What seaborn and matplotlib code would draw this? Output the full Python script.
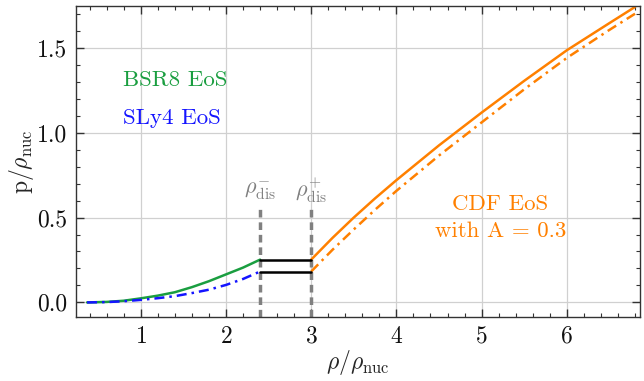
import matplotlib
matplotlib.use("Agg")
import matplotlib.pyplot as plt
import matplotlib.ticker as mticker
import pandas as pd
import seaborn as sns

# densities (rho/rho_nuc) and pressures (p/rho_nuc)
rho_hadr = [0.37, 0.6, 0.8, 1.0, 1.2, 1.4, 1.6, 1.8, 2.0, 2.2, 2.4]
p_bsr8 = [0.0, 0.003, 0.01, 0.024, 0.04, 0.06, 0.09, 0.125, 0.165, 0.205, 0.252]
p_sly4 = [0.0, 0.002, 0.007, 0.015, 0.025, 0.037, 0.055, 0.075, 0.103, 0.138, 0.182]

rho_cdf = [3.0, 3.25, 3.5, 3.75, 4.0, 4.5, 5.0, 5.5, 6.0, 6.5, 6.8]
p_cdf_bsr8 = [0.252, 0.38, 0.50, 0.613, 0.72, 0.925, 1.118, 1.305, 1.485, 1.645, 1.74]
p_cdf_sly4 = [0.182, 0.31, 0.43, 0.546, 0.657, 0.865, 1.06, 1.255, 1.44, 1.605, 1.70]

rho_dis_minus = 2.4
rho_dis_plus = 3.0

green = "#1a9e40"
blue = "#1414ff"
orange = "#ff8000"
gray = "#808080"

sns.set_theme(style="ticks")
plt.rcParams.update({
    "font.family": ["serif"],
    "font.serif": ["cmr10", "DejaVu Serif"],
    "mathtext.fontset": "cm",
    "axes.formatter.use_mathtext": True,
    "axes.unicode_minus": False,
})

fig = plt.figure(figsize=(6.44, 3.81), dpi=100)
ax = fig.add_axes([0.118, 0.167, 0.876, 0.817])

df_h = pd.DataFrame({"rho": rho_hadr, "bsr8": p_bsr8, "sly4": p_sly4})
df_c = pd.DataFrame({"rho": rho_cdf, "bsr8": p_cdf_bsr8, "sly4": p_cdf_sly4})

dashdot = (4, 2, 1, 2)
sns.lineplot(data=df_h, x="rho", y="bsr8", color=green, lw=1.8, ax=ax)
sns.lineplot(data=df_h, x="rho", y="sly4", color=blue, lw=1.8, ax=ax).lines[-1].set_dashes(dashdot)
sns.lineplot(data=df_c, x="rho", y="bsr8", color=orange, lw=1.8, ax=ax)
sns.lineplot(data=df_c, x="rho", y="sly4", color=orange, lw=1.8, ax=ax).lines[-1].set_dashes(dashdot)

# Maxwell plateaus
ax.plot([rho_dis_minus, rho_dis_plus], [p_bsr8[-1], p_bsr8[-1]], color="black", lw=1.8)
ax.plot([rho_dis_minus, rho_dis_plus], [p_sly4[-1], p_sly4[-1]], color="black", lw=1.8)

ymin, ymax = -0.088, 1.745
for xv in (rho_dis_minus, rho_dis_plus):
    ax.plot([xv, xv], [ymin, 0.57], color=gray, lw=2.5, ls=(0, (2.2, 1.4)), zorder=1)
ax.text(rho_dis_minus, 0.66, r"$\rho_{\mathrm{dis}}^{-}$", color=gray, fontsize=16,
        ha="center", va="center")
ax.text(rho_dis_plus, 0.66, r"$\rho_{\mathrm{dis}}^{+}$", color=gray, fontsize=16,
        ha="center", va="center")

fs = 16.5
ax.text(0.79, 1.31, "BSR8 EoS", color=green, fontsize=fs, va="center")
ax.text(0.79, 1.085, "SLy4 EoS", color=blue, fontsize=fs, va="center")
ax.text(5.22, 0.58, "CDF EoS", color=orange, fontsize=fs, ha="center", va="center")
ax.text(5.22, 0.42, "with A = 0.3", color=orange, fontsize=fs, ha="center", va="center")

ax.set_xlim(0.24, 6.86)
ax.set_ylim(ymin, ymax)
ax.xaxis.set_major_locator(mticker.MultipleLocator(1))
ax.xaxis.set_minor_locator(mticker.MultipleLocator(0.2))
ax.yaxis.set_major_locator(mticker.MultipleLocator(0.5))
ax.yaxis.set_minor_locator(mticker.MultipleLocator(0.1))
ax.yaxis.set_major_formatter(mticker.FormatStrFormatter("%.1f"))
ax.tick_params(which="both", direction="in", top=True, right=True, color="#333333",
               labelsize=17, labelcolor="#111111")
ax.tick_params(which="major", length=6, width=1, pad=6)
ax.tick_params(which="minor", length=3, width=0.8)
ax.grid(True, which="major", color="#d0d0d0", lw=0.9)
for s in ax.spines.values():
    s.set_color("#333333")
    s.set_linewidth(1.0)

xl = ax.set_xlabel(r"$\rho/\rho_{\mathrm{nuc}}$", fontsize=17)
xl.set_va("center")
ax.xaxis.set_label_coords(0.5, -0.145)
yl = ax.set_ylabel(r"$\mathrm{p}/\rho_{\mathrm{nuc}}$", fontsize=17)
yl.set_va("center")
ax.yaxis.set_label_coords(-0.096, 0.5)

fig.savefig("out.png", dpi=100)
